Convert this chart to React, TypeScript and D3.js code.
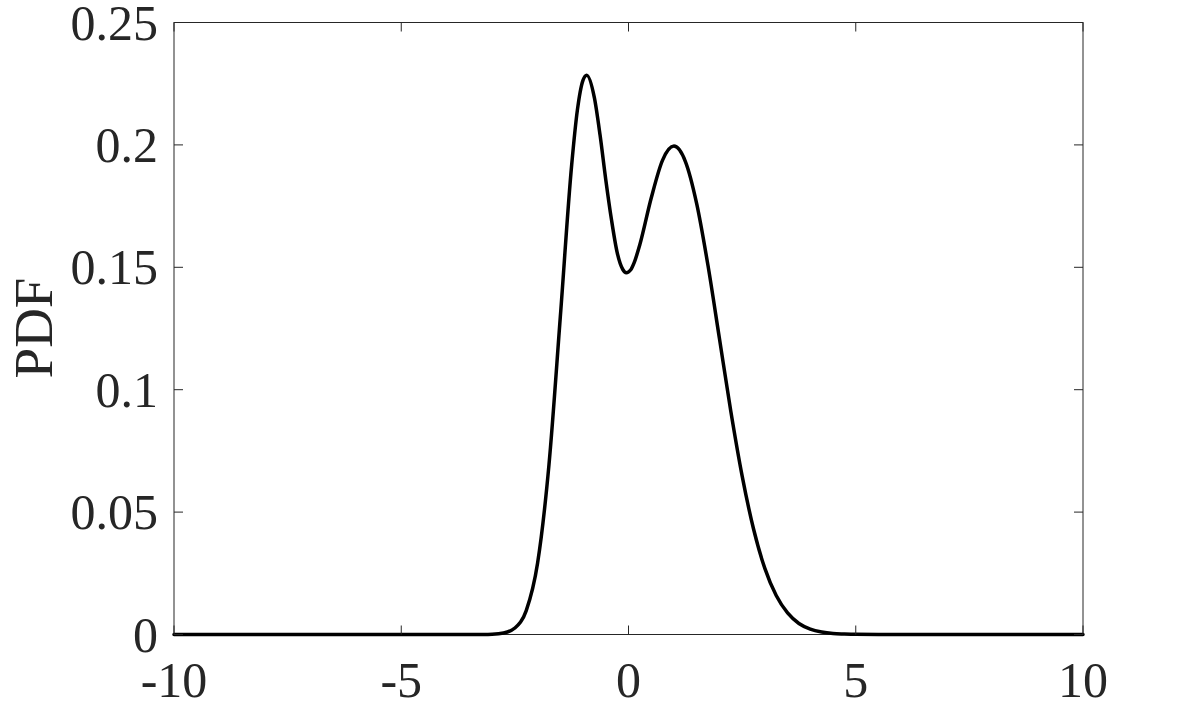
import React from 'react';
import * as d3 from 'd3';

const xs = [-10, -3.5, -3.25, -3, -2.75, -2.5, -2.25, -2, -1.75, -1.5, -1.25, -1.125, -1, -0.92, -0.75, -0.625, -0.5, -0.375, -0.25, -0.125, -0.05, 0.05, 0.125, 0.25, 0.5, 0.75, 1, 1.25, 1.5, 1.75, 2, 2.25, 2.5, 2.75, 3, 3.25, 3.5, 3.75, 4, 4.25, 4.5, 4.75, 5, 5.5, 10];
const pdf = [0, 0, 0.00003, 0.00013, 0.00061, 0.00265, 0.00978, 0.0292, 0.0693, 0.1298, 0.1919, 0.2142, 0.2265, 0.2285, 0.2192, 0.2039, 0.1858, 0.1695, 0.1561, 0.1491, 0.1478, 0.149, 0.1519, 0.1593, 0.1783, 0.1938, 0.1995, 0.1933, 0.176, 0.1506, 0.121, 0.0913, 0.0648, 0.0432, 0.027, 0.0159, 0.0088, 0.0045, 0.0022, 0.001, 0.0004, 0.0002, 0.00007, 0.00001, 0];

const xTicks = [-10, -5, 0, 5, 10];
const yTicks = [0, 0.05, 0.1, 0.15, 0.2, 0.25];
const yTickLabels = ['0', '0.05', '0.1', '0.15', '0.2', '0.25'];

export default function App() {
    const width = 1196, height = 715;
    const left = 174, right = 1083, top = 22.5, bottom = 634.5;
    const font = '"Liberation Serif", "Times New Roman", serif';
    const axisColor = '#262626';

    const x = d3.scaleLinear().domain([-10, 10]).range([left, right]);
    const y = d3.scaleLinear().domain([0, 0.25]).range([bottom, top]);

    const line = d3.line<number>()
        .x((d, i) => x(xs[i]))
        .y(d => y(d))
        .curve(d3.curveMonotoneX);

    const tickLen = 9;

    return (
        <div style={{position: 'fixed', left: 0, top: 0}}>
            <svg width={width} height={height} style={{display: 'block', background: '#fff'}}>
                {/* box */}
                <rect x={left} y={top} width={right - left} height={bottom - top} fill="none" stroke={axisColor} strokeWidth={1}/>

                <path d={line(pdf) || ''} fill="none" stroke="#000" strokeWidth={3.5} strokeLinejoin="round" strokeLinecap="round"/>

                {xTicks.map(t => (
                    <g key={'x' + t}>
                        <line x1={x(t)} x2={x(t)} y1={bottom} y2={bottom - tickLen} stroke={axisColor}/>
                        <line x1={x(t)} x2={x(t)} y1={top} y2={top + tickLen} stroke={axisColor}/>
                        <text x={x(t)} y={697} textAnchor="middle" fontFamily={font} fontSize={50} fill={axisColor}>{t}</text>
                    </g>
                ))}

                {yTicks.map((t, i) => (
                    <g key={'y' + t}>
                        <line x1={left} x2={left + tickLen} y1={y(t)} y2={y(t)} stroke={axisColor}/>
                        <line x1={right} x2={right - tickLen} y1={y(t)} y2={y(t)} stroke={axisColor}/>
                        <text x={158} y={y(t) + 17} textAnchor="end" fontFamily={font} fontSize={50} fill={axisColor}>{yTickLabels[i]}</text>
                    </g>
                ))}

                <text transform="translate(52, 328) rotate(-90)" textAnchor="middle" fontFamily={font} fontSize={55} fill={axisColor}>PDF</text>
            </svg>
        </div>
    );
}
